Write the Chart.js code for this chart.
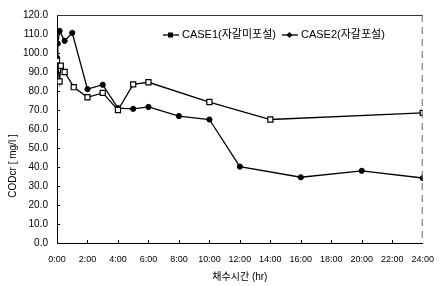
<!DOCTYPE html>
<html><head><meta charset="utf-8">
<script src="https://cdn.jsdelivr.net/npm/chart.js@4.4.1/dist/chart.umd.min.js"></script>
<style>html,body{margin:0;padding:0;background:#fff;}canvas{display:block}</style>
</head><body>
<canvas id="c" width="445" height="286"></canvas>
<script>
const seriesNames = ['CASE1(자갈미포설)', 'CASE2(자갈포설)'];
const case1Hours  = [0, 0.17, 0.25, 0.5, 1.1, 2, 3, 4, 5, 6, 10, 14, 24];
const case1Values = [96, 85, 93.3, 90, 82, 76.7, 79, 70, 83.5, 84.6, 74.2, 65, 68.5];
const case2Hours  = [0, 0.05, 0.17, 0.5, 1, 2, 3, 4, 5, 6, 8, 10, 12, 16, 20, 24];
const case2Values = [97.5, 105, 111.6, 106.4, 110.6, 81, 83.3, 71, 70.6, 71.6, 66.8, 65, 40.2, 34.6, 38, 34.2];
const xTickLabels = ['0:00','2:00','4:00','6:00','8:00','10:00','12:00','14:00','16:00','18:00','20:00','22:00','24:00'];
const yTickLabels = ['0.0','10.0','20.0','30.0','40.0','50.0','60.0','70.0','80.0','90.0','100.0','110.0','120.0'];
const xTitle = '채수시간 (hr)';
const yTitle = 'CODcr [ mg/l ]';

const FONT = '"Liberation Sans", Arial, "Noto Sans CJK KR", sans-serif';

function pts(h, v){ return h.map((x,i)=>({x:x, y:v[i]})); }

const decor = {
  id:'decor',
  afterDraw(chart){
    const ctx = chart.ctx, a = chart.chartArea;
    const xs = chart.scales.x, ys = chart.scales.y;
    ctx.save();
    ctx.strokeStyle = '#333'; ctx.lineWidth = 1;
    ctx.beginPath(); ctx.moveTo(a.left, a.top+0.5); ctx.lineTo(a.right, a.top+0.5); ctx.stroke();
    ctx.setLineDash([7,5]); ctx.strokeStyle='#666';
    ctx.beginPath(); ctx.moveTo(a.right-0.5, a.top); ctx.lineTo(a.right-0.5, a.bottom); ctx.stroke();
    ctx.setLineDash([]);
    ctx.strokeStyle = '#000';
    ys.ticks.forEach(t=>{ if(t.value<=0||t.value>=120) return; const y=Math.round(ys.getPixelForValue(t.value))+0.5;
      ctx.beginPath(); ctx.moveTo(a.left, y); ctx.lineTo(a.left+3, y); ctx.stroke(); });
    xs.ticks.forEach(t=>{ if(t.value<=0||t.value>=24) return; const x=Math.round(xs.getPixelForValue(t.value))+0.5;
      ctx.beginPath(); ctx.moveTo(x, a.bottom); ctx.lineTo(x, a.bottom-3); ctx.stroke(); });
    ctx.fillStyle = '#000';
    ctx.font = '10px ' + FONT;
    ctx.textAlign = 'center'; ctx.textBaseline = 'middle';
    ctx.translate(13, a.top + 151); ctx.rotate(-Math.PI/2);
    ctx.fillText(yTitle, 0, 0);
    ctx.restore();
    ctx.save();
    ctx.font = '11px ' + FONT;
    ctx.textBaseline = 'middle'; ctx.textAlign = 'left'; ctx.fillStyle = '#000';
    let x = a.left + 106; const y = a.top + 20;
    chart.data.datasets.forEach((ds, i)=>{
      ctx.strokeStyle = '#000'; ctx.lineWidth = 1.3;
      ctx.beginPath(); ctx.moveTo(x, y); ctx.lineTo(x+16, y); ctx.stroke();
      ctx.fillStyle = '#000';
      if (i===0) { ctx.fillRect(x+5, y-2.5, 5, 5); }
      else { ctx.beginPath(); ctx.moveTo(x+7.5, y-3); ctx.lineTo(x+10.5, y); ctx.lineTo(x+7.5, y+3); ctx.lineTo(x+4.5, y); ctx.closePath(); ctx.fill(); }
      ctx.fillText(ds.label, x+19, y);
      x += 19 + ctx.measureText(ds.label).width + 6;
    });
    ctx.restore();
  }
};

new Chart(document.getElementById('c'), {
  type:'line',
  data:{ datasets:[
    { label: seriesNames[0], data: pts(case1Hours, case1Values), borderColor:'#000', borderWidth:1.3,
      pointStyle:'rect', pointRadius:3.6, pointBackgroundColor:'#fff', pointBorderColor:'#000', pointBorderWidth:1.2, tension:0 },
    { label: seriesNames[1], data: pts(case2Hours, case2Values), borderColor:'#000', borderWidth:1.3,
      pointStyle:'circle', pointRadius:2.6, pointBackgroundColor:'#000', pointBorderColor:'#000', pointBorderWidth:1, tension:0 }
  ]},
  options:{
    responsive:false, animation:false, devicePixelRatio:1,
    layout:{ padding:{ left:0, right:18, top:12, bottom:0 } },
    plugins:{ legend:{display:false}, tooltip:{enabled:false} },
    scales:{
      x:{ type:'linear', min:0, max:24,
        afterFit(s){ s.height = 43; },
        ticks:{ stepSize:2, autoSkip:false, maxRotation:0, padding:11, color:'#000',
          font:{ size:9, family:FONT },
          callback:(v)=>{ const i=Math.round(v/2); return xTickLabels[i]; } },
        grid:{ display:false, drawTicks:false },
        border:{ display:true, color:'#000', width:1 },
        title:{ display:true, text:xTitle, color:'#000', font:{ size:10, family:FONT }, padding:{top:3,bottom:3} }
      },
      y:{ min:0, max:120,
        afterFit(s){ s.width = 57; },
        ticks:{ stepSize:10, padding:9, color:'#000', font:{ size:10, family:FONT },
          callback:(v)=>yTickLabels[Math.round(v/10)] },
        grid:{ display:false, drawTicks:false },
        border:{ display:true, color:'#000', width:1 }
      }
    }
  },
  plugins:[decor]
});
</script>
</body></html>
